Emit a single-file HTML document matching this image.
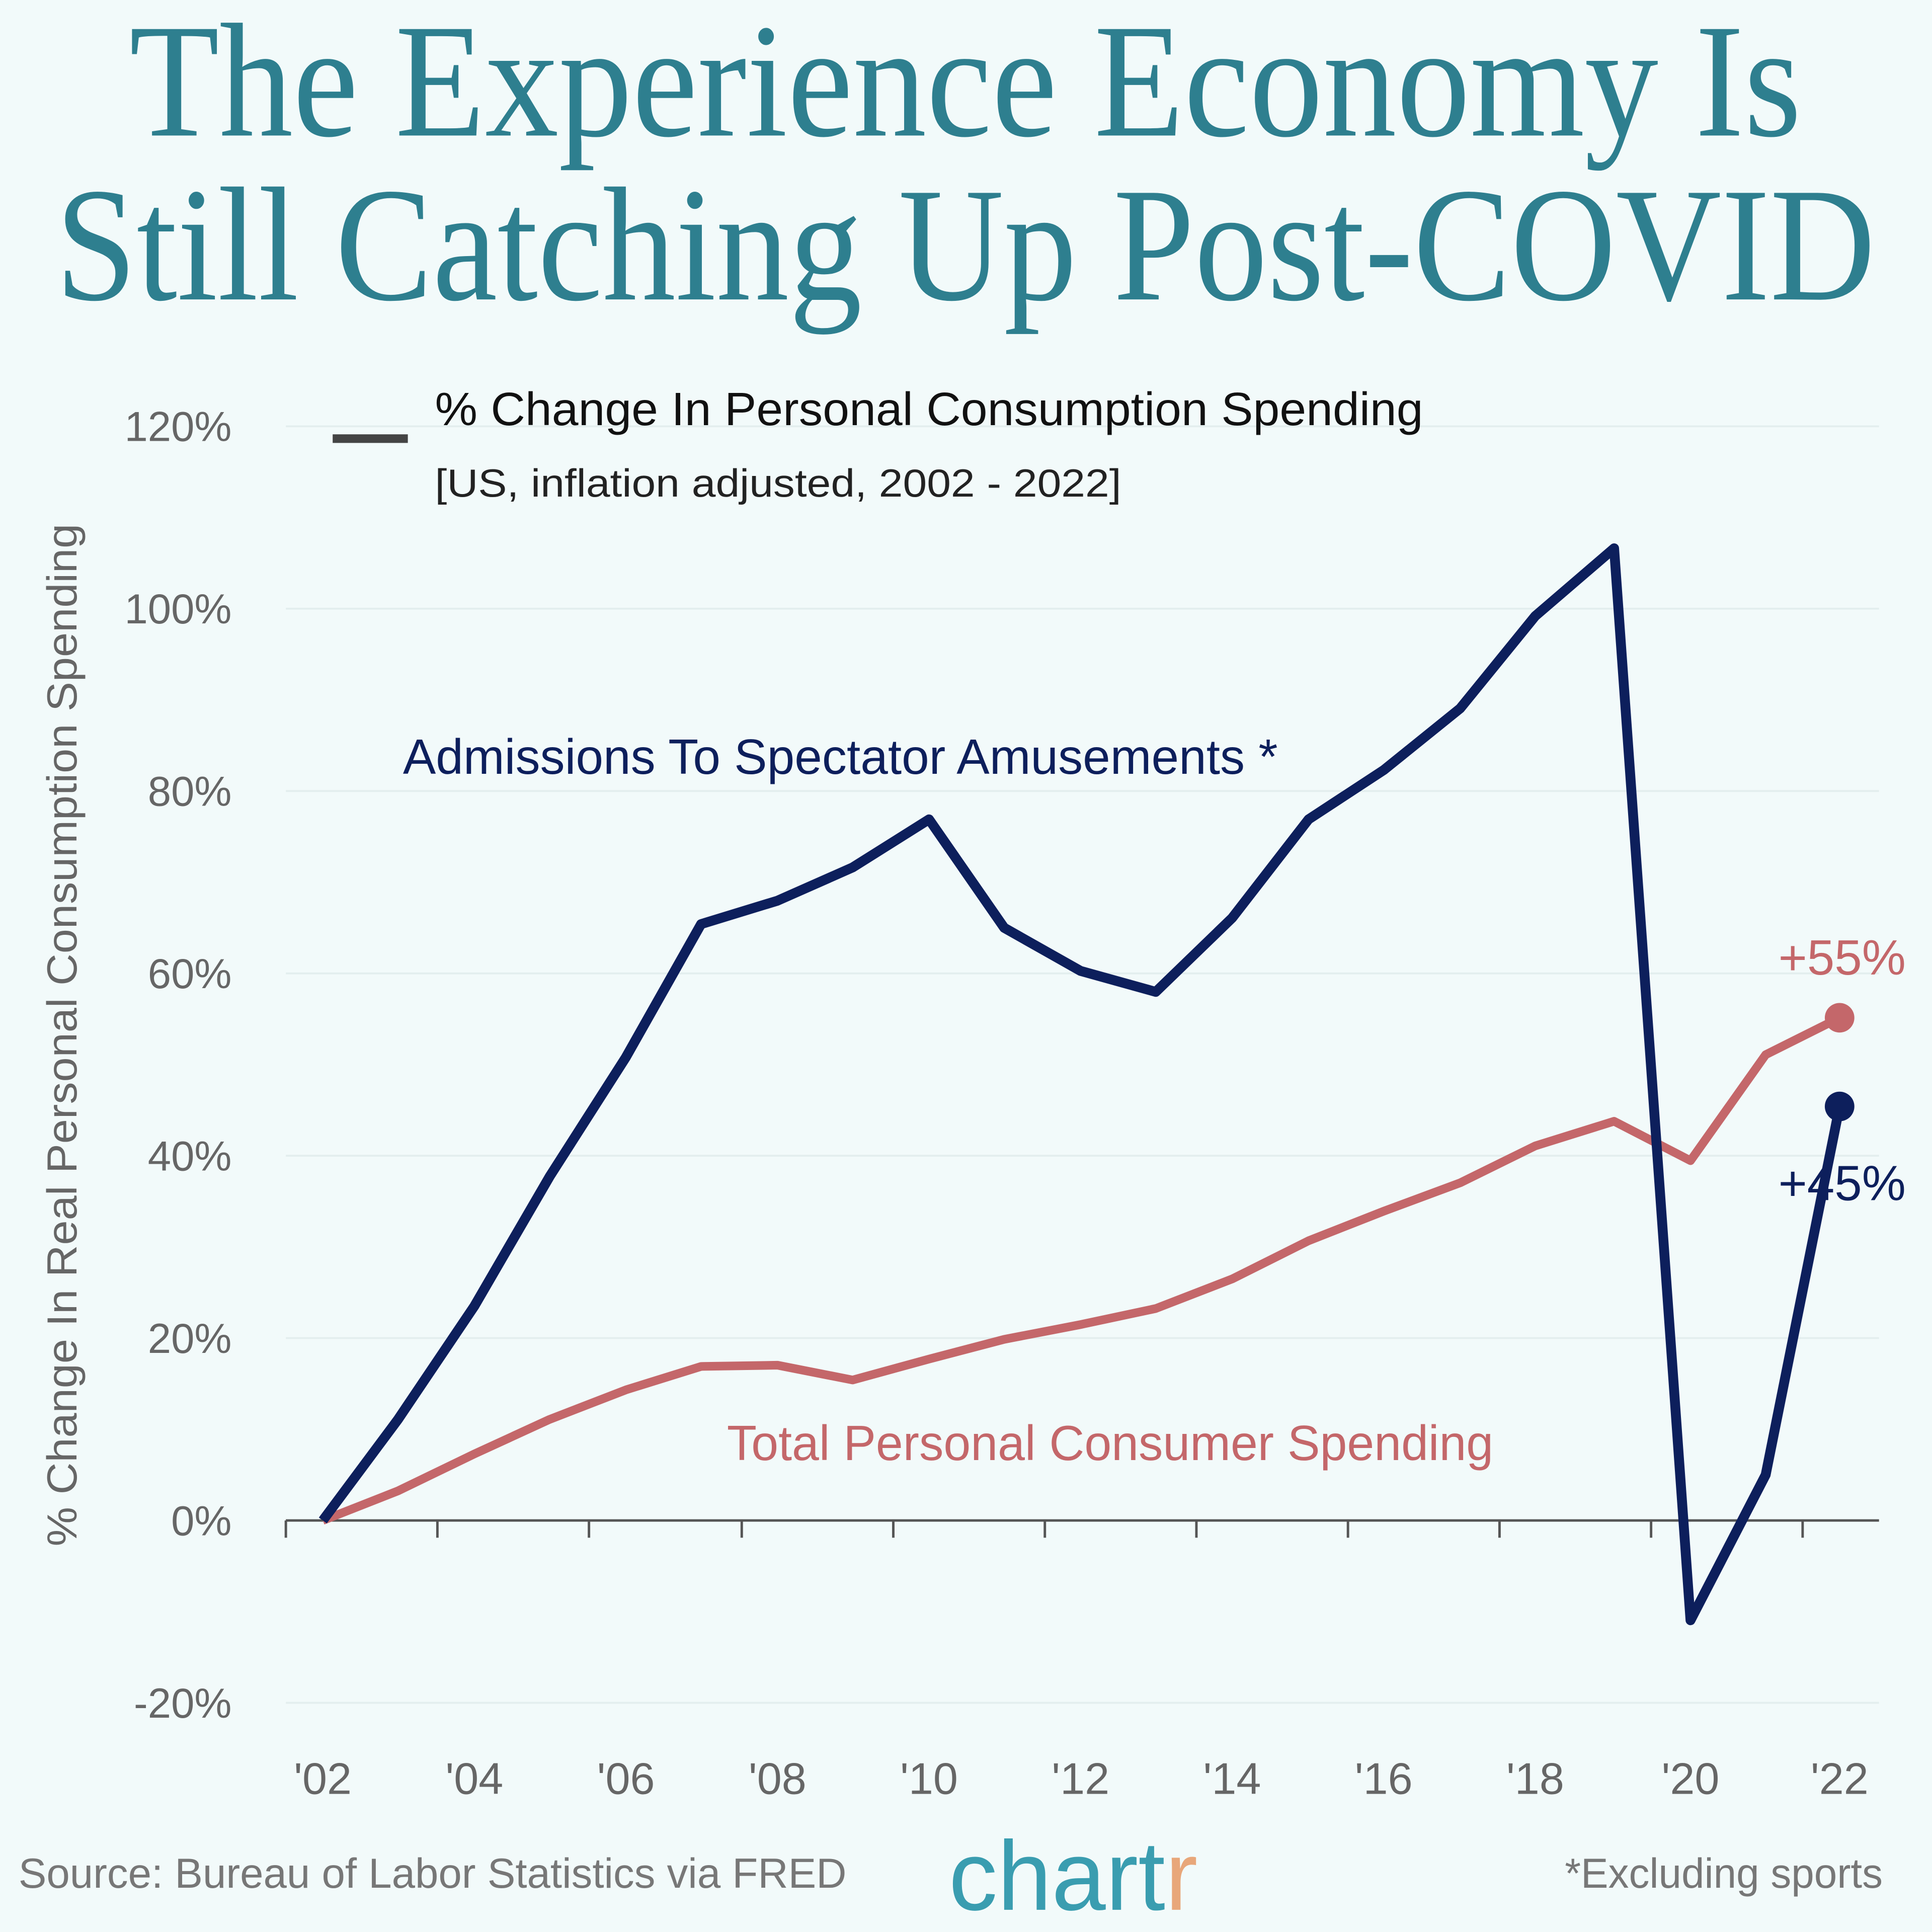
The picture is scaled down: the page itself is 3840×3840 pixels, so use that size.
<!DOCTYPE html>
<html><head><meta charset="utf-8"><style>
html,body{margin:0;padding:0;background:#f2fafa;}
svg{display:block;font-family:"Liberation Sans",sans-serif;}
</style></head><body>
<svg width="3840" height="3840" viewBox="0 0 1568 1568" xmlns="http://www.w3.org/2000/svg">
<rect width="1568" height="1568" fill="#f2fafa"/>
<g style="font-family:'Liberation Serif',serif" fill="#2e7f8f" font-size="132">
<text x="105" y="110" textLength="1357" lengthAdjust="spacingAndGlyphs">The Experience Economy Is</text>
<text x="45" y="243" textLength="1477" lengthAdjust="spacingAndGlyphs">Still Catching Up Post-COVID</text>
</g>
<g stroke="#e3eeee" stroke-width="1.5">
<line x1="232" x2="1525" y1="346" y2="346"/>
<line x1="232" x2="1525" y1="494" y2="494"/>
<line x1="232" x2="1525" y1="642" y2="642"/>
<line x1="232" x2="1525" y1="790" y2="790"/>
<line x1="232" x2="1525" y1="938" y2="938"/>
<line x1="232" x2="1525" y1="1086" y2="1086"/>
<line x1="232" x2="1525" y1="1382" y2="1382"/>
</g>
<g stroke="#555" stroke-width="2">
<line x1="232" x2="1525" y1="1234" y2="1234"/>
<g>
<line x1="232" x2="232" y1="1234" y2="1248"/>
<line x1="355" x2="355" y1="1234" y2="1248"/>
<line x1="478" x2="478" y1="1234" y2="1248"/>
<line x1="602" x2="602" y1="1234" y2="1248"/>
<line x1="725" x2="725" y1="1234" y2="1248"/>
<line x1="848" x2="848" y1="1234" y2="1248"/>
<line x1="971" x2="971" y1="1234" y2="1248"/>
<line x1="1094" x2="1094" y1="1234" y2="1248"/>
<line x1="1217" x2="1217" y1="1234" y2="1248"/>
<line x1="1340" x2="1340" y1="1234" y2="1248"/>
<line x1="1463" x2="1463" y1="1234" y2="1248"/>
</g></g>
<g fill="#666" font-size="34" text-anchor="end">
<text x="188" y="358">120%</text>
<text x="188" y="506">100%</text>
<text x="188" y="654">80%</text>
<text x="188" y="802">60%</text>
<text x="188" y="950">40%</text>
<text x="188" y="1098">20%</text>
<text x="188" y="1246">0%</text>
<text x="188" y="1394">-20%</text>
</g>
<g fill="#666" font-size="36" text-anchor="middle">
<text x="262" y="1456">'02</text><text x="385" y="1456">'04</text><text x="508" y="1456">'06</text>
<text x="631" y="1456">'08</text><text x="754" y="1456">'10</text><text x="877" y="1456">'12</text>
<text x="1000" y="1456">'14</text><text x="1123" y="1456">'16</text><text x="1246" y="1456">'18</text>
<text x="1372" y="1456">'20</text><text x="1493" y="1456">'22</text>
</g>
<text transform="translate(62,840) rotate(-90)" fill="#666" font-size="34" text-anchor="middle" textLength="830" lengthAdjust="spacingAndGlyphs">% Change In Real Personal Consumption Spending</text>
<line x1="270" x2="331" y1="356" y2="356" stroke="#444" stroke-width="7"/>
<text x="353" y="345" font-size="38" fill="#111" textLength="802" lengthAdjust="spacingAndGlyphs">% Change In Personal Consumption Spending</text>
<text x="353" y="403" font-size="32" fill="#222" textLength="557" lengthAdjust="spacingAndGlyphs">[US, inflation adjusted,  2002 - 2022]</text>
<polyline fill="none" stroke="#c4676a" stroke-width="7" stroke-linejoin="round" points="262,1234 323,1210 385,1180 446,1152 508,1128 569,1109 631,1108 692,1120 754,1103 815,1087 877,1075 938,1062 1000,1038 1062,1007 1123,983 1185,960 1246,930 1310,910 1372,942 1433,856 1493,826"/>
<polyline fill="none" stroke="#0d1f5c" stroke-width="8" stroke-linejoin="round" points="262,1234 323,1152 385,1060 446,955 508,858 569,750 631,731 692,704 754,665 815,753 877,788 938,805 1000,745 1062,665 1123,625 1185,575 1246,500 1310,445 1372,1315 1433,1197 1493,898"/>
<circle cx="1493" cy="826" r="12" fill="#c4676a"/>
<circle cx="1493" cy="898" r="12" fill="#0d1f5c"/>
<text x="1495" y="791" font-size="40" fill="#c4676a" text-anchor="middle">+55%</text>
<text x="1495" y="974" font-size="40" fill="#0d1f5c" text-anchor="middle">+45%</text>
<text x="327" y="628" font-size="40" fill="#0d1f5c" textLength="710" lengthAdjust="spacingAndGlyphs">Admissions To Spectator Amusements *</text>
<text x="590" y="1185" font-size="40" fill="#c4676a" textLength="622" lengthAdjust="spacingAndGlyphs">Total Personal Consumer Spending</text>
<text x="15" y="1532" font-size="34" fill="#777" textLength="672" lengthAdjust="spacingAndGlyphs">Source: Bureau of Labor Statistics via FRED</text>
<text x="1528" y="1532" font-size="34" fill="#777" text-anchor="end" textLength="258" lengthAdjust="spacingAndGlyphs">*Excluding sports</text>
<text x="770" y="1550" font-size="80" fill="#3a9db0" textLength="202" lengthAdjust="spacingAndGlyphs">chart<tspan fill="#e8a77a">r</tspan></text>
</svg>
</body></html>
